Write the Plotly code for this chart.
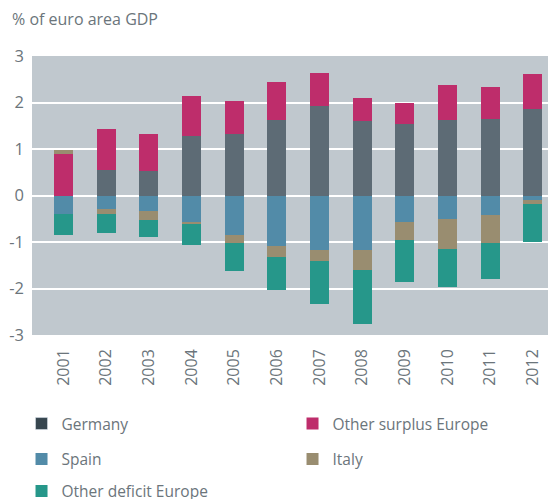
import plotly.graph_objects as go

years = ["2001", "2002", "2003", "2004", "2005", "2006", "2007", "2008", "2009", "2010", "2011", "2012"]
germany = [0.00, 0.55, 0.52, 1.28, 1.33, 1.62, 1.93, 1.60, 1.54, 1.62, 1.64, 1.86]
other_surplus = [0.89, 0.88, 0.80, 0.87, 0.70, 0.82, 0.70, 0.49, 0.44, 0.76, 0.70, 0.75]
spain = [-0.39, -0.30, -0.34, -0.56, -0.85, -1.08, -1.17, -1.17, -0.58, -0.51, -0.41, -0.09]
italy = [0.09, -0.09, -0.19, -0.05, -0.18, -0.24, -0.23, -0.44, -0.37, -0.64, -0.61, -0.10]
other_deficit = [-0.46, -0.41, -0.37, -0.45, -0.60, -0.71, -0.94, -1.15, -0.90, -0.82, -0.78, -0.81]
y_ticks = [-3, -2, -1, 0, 1, 2, 3]
y_tick_labels = ["-3", "-2", "-1", "0", "1", "2", "3"]

FONT = "Open Sans"
TXT = "#6b757b"
W = 0.445

fig = go.Figure()
# legend-only swatch for Germany (the legend key is darker than the bars)
fig.add_trace(go.Bar(x=[years[0]], y=[None], name="Germany", marker_color="#37464f",
                     width=W, legend="legend"))
fig.add_trace(go.Bar(x=years, y=germany, name="Germany", marker_color="#5d6b75",
                     width=W, showlegend=False, marker_line_width=0))
fig.add_trace(go.Bar(x=years, y=other_surplus, name="Other surplus Europe", marker_color="#be2d6b",
                     width=W, legend="legend", marker_line_width=0))
fig.add_trace(go.Bar(x=years, y=spain, name="Spain", marker_color="#528ba8",
                     width=W, legend="legend2", marker_line_width=0))
fig.add_trace(go.Bar(x=years, y=italy, name="Italy", marker_color="#998d70",
                     width=W, legend="legend2", marker_line_width=0))
fig.add_trace(go.Bar(x=years, y=other_deficit, name="Other deficit Europe", marker_color="#26978a",
                     width=W, legend="legend3", marker_line_width=0))

leg_common = dict(orientation="h", xanchor="left", yanchor="top", x=-0.02,
                  entrywidth=226, entrywidthmode="pixels",
                  font=dict(family=FONT, size=15.5, color=TXT),
                  bgcolor="rgba(0,0,0,0)", traceorder="normal")

fig.update_layout(
    width=556, height=499,
    margin=dict(l=24, r=8, t=48, b=172, autoexpand=False),
    paper_bgcolor="white", plot_bgcolor="#c0c8ce",
    barmode="relative", bargap=0,
    font=dict(family=FONT, size=16, color=TXT),
    xaxis=dict(type="category", range=[-0.738, 11.54], tickangle=-90,
               showgrid=False, zeroline=False, ticks="", ticklabelstandoff=10,
               tickfont=dict(family=FONT, size=16, color=TXT)),
    yaxis=dict(range=[-3, 3], tickvals=y_ticks, ticktext=y_tick_labels,
               showgrid=True, gridcolor="white",
               gridwidth=1.5, zeroline=False, ticks="",
               tickfont=dict(family=FONT, size=16.5, color=TXT), ticklabelstandoff=7),
    legend=dict(leg_common, y=-0.258),
    legend2=dict(leg_common, y=-0.385),
    legend3=dict(leg_common, y=-0.500),
    annotations=[dict(text="% of euro area GDP", xref="paper", yref="paper",
                      x=-0.042, y=1.133, xanchor="left", yanchor="middle", showarrow=False,
                      font=dict(family=FONT, size=16, color=TXT))],
)

fig.write_html("out.html")
